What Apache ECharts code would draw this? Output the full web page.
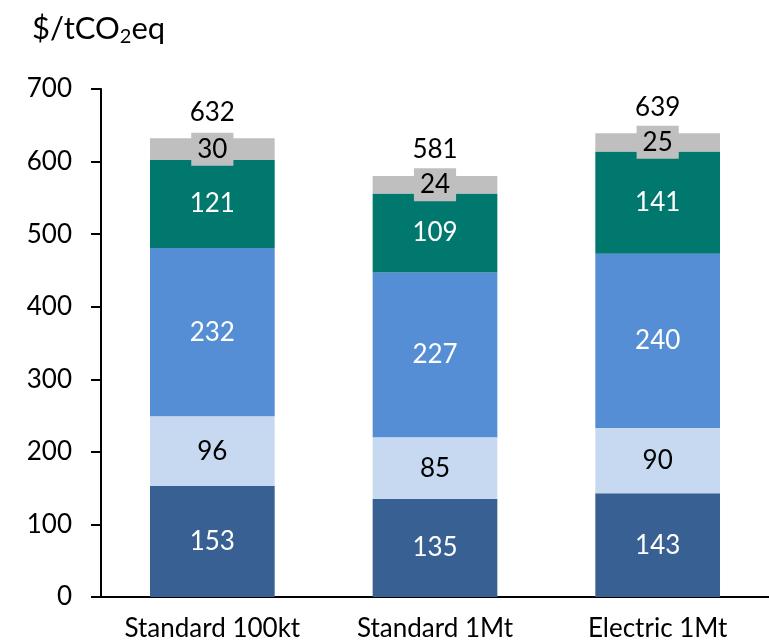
<!DOCTYPE html>
<html>
<head>
<meta charset="utf-8">
<script src="https://cdn.jsdelivr.net/npm/echarts@6/dist/echarts.min.js"></script>
<style>
  html, body { margin: 0; padding: 0; background: #fff; }
  #chart { width: 769px; height: 644px; }
</style>
</head>
<body>
<div id="chart"></div>
<script>
// Cost breakdown per configuration, $/tCO2eq
const categories = ['Standard 100kt', 'Standard 1Mt', 'Electric 1Mt'];
const seg1 = [153, 135, 143];
const seg2 = [96, 85, 90];
const seg3 = [232, 227, 240];
const seg4 = [121, 109, 141];
const seg5 = [30, 24, 25];
const totals = [632, 581, 639];
const yTicks = [0, 100, 200, 300, 400, 500, 600, 700];

const FONT = 'Lato, "Open Sans", sans-serif';
const FS = 26;

const segments = [
  { data: seg1, color: '#386092', text: '#ffffff' },
  { data: seg2, color: '#C6D9F0', text: '#000000' },
  { data: seg3, color: '#558ED5', text: '#ffffff' },
  { data: seg4, color: '#00786E', text: '#ffffff' },
  { data: seg5, color: '#BFBFBF', text: '#000000', boxed: true }
];

const series = segments.map(s => ({
  type: 'bar',
  stack: 'cost',
  barWidth: '56%',
  data: s.data,
  itemStyle: { color: s.color },
  label: Object.assign({
    show: true,
    position: 'inside',
    color: s.text,
    fontSize: FS,
    fontFamily: FONT
  }, s.boxed ? { backgroundColor: s.color, padding: [4, 6, 3, 6] } : {})
}));

// Totals written above each stack
series.push({
  type: 'scatter',
  data: totals,
  symbolSize: 0,
  itemStyle: { color: '#ffffff', opacity: 1 },
  label: {
    show: true,
    position: 'top',
    distance: 13,
    color: '#000000',
    fontSize: FS,
    fontFamily: FONT
  },
  z: 5
});

const chart = echarts.init(document.getElementById('chart'), null, { renderer: 'canvas' });
chart.setOption({
  backgroundColor: '#fff',
  animation: false,
  title: {
    text: '{m|$/tCO}{sub|2}{m|eq}',
    left: 27,
    top: 6,
    textStyle: {
      fontSize: 31,
      fontWeight: 'normal',
      color: '#000',
      fontFamily: FONT,
      rich: {
        m: { fontSize: 31, lineHeight: 36, fontFamily: FONT, color: '#000' },
        sub: { fontSize: 20, lineHeight: 22, fontFamily: FONT, color: '#000', verticalAlign: 'bottom', padding: [20, 0, 0, 0] }
      }
    }
  },
  grid: { left: 101, top: 89, width: 686, height: 508, containLabel: false },
  xAxis: {
    type: 'category',
    data: categories,
    axisLine: { show: true, lineStyle: { color: '#000', width: 2 } },
    axisTick: { show: false },
    axisLabel: { color: '#000', fontSize: FS, fontFamily: FONT, margin: 19, interval: 0, hideOverlap: false }
  },
  yAxis: {
    type: 'value',
    min: yTicks[0],
    max: yTicks[yTicks.length - 1],
    interval: 100,
    splitLine: { show: false },
    axisLine: { show: true, lineStyle: { color: '#000', width: 2 } },
    axisTick: { show: true, inside: false, length: 10, lineStyle: { color: '#000', width: 2 } },
    axisLabel: { color: '#000', fontSize: FS, fontFamily: FONT, margin: 29 }
  },
  series: series
});
</script>
</body>
</html>
